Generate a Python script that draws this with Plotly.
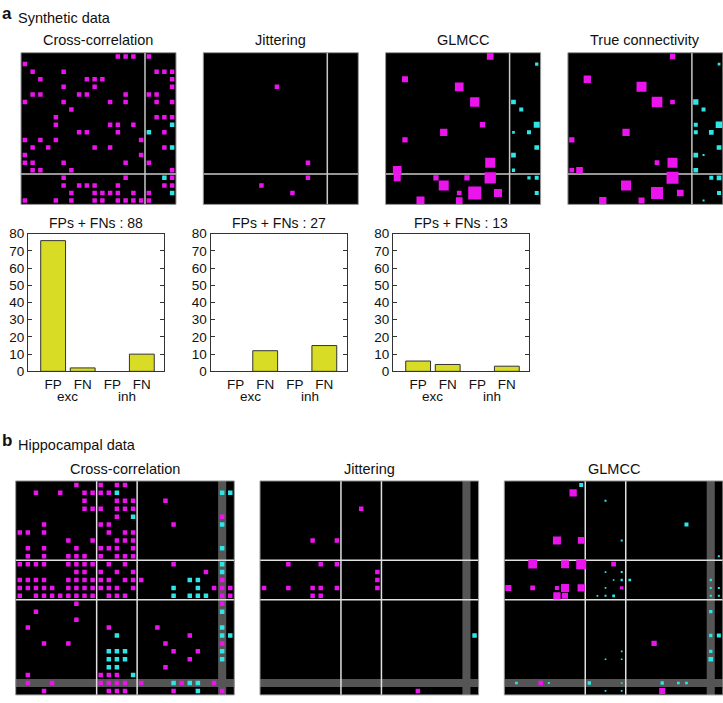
import plotly.graph_objects as go

W, H = 723, 703
FONT = "Liberation Sans, Arial, Helvetica, sans-serif"
MAG = "#ec14ec"
CYA = "#2ee6e6"
BAR = "#d8dc24"

# ---------------- DATA ----------------
# Panel a (synthetic, 20 neurons; 0-15 excitatory, 16-19 inhibitory). (row, col)
A_CC_EXC = [(0,12),(0,13),(0,14),(0,16),(1,0),(2,1),(2,5),(2,17),(2,18),(2,19),
            (3,2),(3,8),(3,9),(3,10),(3,19),(4,5),(4,9),(4,19),
            (5,1),(5,2),(5,7),(5,8),(5,13),(5,16),(5,17),
            (6,0),(6,5),(6,11),(6,13),(6,17),(6,19),(7,6),(8,4),(8,17),(8,18),(8,19),
            (9,4),(9,11),(9,12),(9,14),(10,7),(10,8),(10,12),(10,18),
            (11,0),(11,2),(11,4),(11,15),(12,1),(12,3),(12,9),(12,11),(12,18),
            (13,0),(13,15),(14,0),(14,1),(14,5),(14,13),(14,16),
            (15,1),(15,2),(15,6),(15,19),(16,5),(16,13),(16,19),
            (17,5),(17,7),(17,8),(17,9),(17,12),(17,18),(17,19),
            (18,6),(18,9),(18,10),(18,11),(18,12),(18,14),(18,16),
            (19,0),(19,4),(19,6),(19,9),(19,10),(19,12),(19,13),(19,14),(19,15),(19,16)]
A_CC_INH = [(9,19),(10,16),(12,19),(16,18),(18,19)]

A_JIT_EXC = [(4,9),(14,13),(16,13),(17,7),(18,11)]
A_JIT_INH = []

# (row, col, strength)
A_GLM_EXC = [(0,13,6.7),(3,2,6),(4,9,8.7),(6,11,9.3),(9,12,5.3),(10,7,7.3),(11,2,5.3),
             (14,13,10),(15,1,8.7),(16,1,7),(16,6,5.3),(16,10,5.3),(16,13,11.3),
             (17,7,10),(18,9,4.7),(18,11,13),(18,14,8),(19,4,8),(19,9,6.7)]
A_GLM_INH = [(1,19,3.3),(6,16,4.7),(7,17,4),(9,19,6),(10,16,2.7),(10,18,4),(12,19,4.7),
             (13,16,4.7),(15,16,3.3),(16,18,3.3),(16,19,4),(18,19,4)]

A_TRUE_EXC = [(0,13,5.3),(3,2,7.3),(4,9,10),(6,11,10.7),(6,13,4.7),(10,7,7.3),(11,0,5.3),
              (14,11,4.7),(14,13,10),(15,0,4.7),(15,1,6.7),(16,13,12),(17,7,10),
              (18,11,12),(18,14,6.7),(19,4,7.3),(19,9,6)]
A_TRUE_INH = [(1,19,2.7),(6,16,5.3),(7,17,4),(9,16,4),(9,19,6.7),(10,16,4),(10,18,4.7),
              (12,19,4.7),(13,16,4.7),(13,17,2),(15,16,4.7),(16,18,4),(16,19,4.7),
              (18,19,4),(19,17,2)]

A_TITLES = ["Cross-correlation", "Jittering", "GLMCC", "True connectivity"]

# Bar charts: FP exc, FN exc, FP inh, FN inh
BAR_CATS = ["FP", "FN", "FP", "FN"]
BAR_GROUPS = ["exc", "inh"]
CC_ERR = [76, 2, 0, 10]
JIT_ERR = [0, 12, 0, 15]
GLM_ERR = [6, 4, 0, 3]
BAR_TICKS = [0, 10, 20, 30, 40, 50, 60, 70, 80]

# Panel b (hippocampal, 27 neurons)
B_CC_EXC = [(0,7),(0,10),(0,12),(0,13),(1,2),(1,5),(1,8),(1,9),(1,10),(1,11),
            (2,8),(2,12),(2,13),(2,14),(2,18),(3,8),(3,9),(3,10),(3,12),(3,13),(3,14),
            (4,12),(4,25),(5,3),(5,10),(5,11),(5,19),(6,0),(6,1),(6,3),(6,11),(6,13),(6,14),
            (7,6),(7,9),(7,12),(7,13),(7,14),(8,1),(8,3),(8,7),(8,10),(8,11),(8,12),(8,14),
            (9,1),(9,3),(9,6),(9,7),(9,8),(9,10),(9,12),(9,13),(9,14),
            (10,0),(10,1),(10,2),(10,3),(10,6),(10,7),(10,8),(10,9),(10,11),(10,13),(10,19),
            (11,7),(11,8),(11,10),(11,12),(11,14),(11,23),
            (12,0),(12,1),(12,2),(12,3),(12,6),(12,7),(12,8),(12,9),(12,10),(12,11),(12,13),(12,14),(12,15),(12,25),
            (13,0),(13,1),(13,2),(13,3),(13,4),(13,6),(13,7),(13,8),(13,9),(13,10),(13,11),(13,12),(13,14),(13,24),(13,25),(13,26),
            (14,0),(14,2),(14,3),(14,4),(14,5),(14,6),(14,7),(14,8),(14,9),(14,11),(14,12),(14,13),(14,25),(14,26),
            (15,7),(15,25),(16,2),(17,7),(18,1),(18,11),(18,17),(19,21),(20,3),(20,6),(20,18),(20,25),
            (21,19),(21,22),(22,21),(23,18),(24,1),(24,10),(24,11),(24,12),
            (25,1),(25,4),(25,10),(25,11),(25,12),(25,13),(25,15),(25,20),(25,24),
            (26,3),(26,11),(26,12),(26,13),(26,19),(26,25)]
B_CC_INH = [(1,12),(1,25),(1,26),(4,14),(5,25),(8,25),(10,25),(11,25),(12,21),(12,22),
            (13,19),(13,22),(14,19),(14,21),(14,22),(14,23),(16,25),(18,25),
            (19,12),(19,25),(19,26),(21,11),(21,12),(21,13),(21,25),(22,11),(22,12),(22,13),(22,25),
            (23,11),(23,12),(24,14),(25,19),(25,21),(25,22),(26,22)]

B_JIT_EXC = [(3,12),(7,6),(7,9),(10,3),(10,7),(10,9),(11,14),(12,14),(13,0),(13,3),(13,6),
             (13,7),(13,9),(13,14),(14,6),(14,7),(26,19)]
B_JIT_INH = [(19,26)]

B_GLM_EXC = [(1,8,7.3),(7,6,8),(7,9,6.7),(10,3,8.7),(10,7,8),(10,9,10),(10,13,4.7),(13,0,6),
             (13,3,4.7),(13,6,4),(13,7,8),(13,9,7.3),(13,14,3.3),(14,6,7.3),(14,7,6),
             (20,18,5.3),(25,4,4.7),(26,19,6)]
B_GLM_INH = [(0,9,4),(2,12,2),(5,22,4),(7,14,2),(9,26,2),(11,12,1.7),(11,14,2),(12,13,1.7),
             (12,14,2.3),(12,15,2.7),(12,25,2.3),(13,12,1.7),(13,25,2),(13,26,2),(14,11,1.7),
             (14,12,2),(14,13,2.7),(14,25,2),(14,26,2),(16,25,3.3),(19,25,3.3),(19,26,4),
             (21,14,1.7),(21,25,3.3),(22,12,1.7),(22,14,1.7),(22,25,4.7),(25,1,2.7),(25,5,2),
             (25,10,3.3),(25,14,1.7),(25,19,3.3),(25,21,2.7),(25,22,2.7),(26,12,1.7),(26,14,1.7)]

B_TITLES = ["Cross-correlation", "Jittering", "GLMCC"]

# ---------------- FIGURE ----------------
fig = go.Figure()
layout = {}
shapes = []
annos = []
counter = [0]


def dx(x0, x1):
    return [max(0, x0 / W), min(1, x1 / W)]


def dy(y0, y1):
    return [max(0, 1 - y1 / H), min(1, 1 - y0 / H)]


def new_axes(xdom, ydom, xopt, yopt):
    counter[0] += 1
    n = counter[0]
    sfx = "" if n == 1 else str(n)
    layout["xaxis" + sfx] = dict(domain=xdom, anchor="y" + sfx, **xopt)
    layout["yaxis" + sfx] = dict(domain=ydom, anchor="x" + sfx, **yopt)
    return "x" + sfx, "y" + sfx


def text(x, y, s, size=14.5, anchor="center", bold=False):
    annos.append(dict(x=x / W, y=1 - y / H, xref="paper", yref="paper", text=("<b>%s</b>" % s) if bold else s,
                      showarrow=False, xanchor=anchor, yanchor="middle",
                      font=dict(family=FONT, size=size, color="#111")))


def matrix(left, top, size, n, exc, inh, splits, bands, base=4.5, line_col="#c8c8c8"):
    hid = dict(visible=False, showgrid=False, zeroline=False, fixedrange=True)
    xa, ya = new_axes(dx(left, left + size), dy(top, top + size),
                      dict(range=[-0.5, n - 0.5], **hid),
                      dict(range=[n - 0.5, -0.5], **hid))
    shapes.append(dict(type="rect", xref=xa + " domain", yref=ya + " domain", x0=0, x1=1, y0=0, y1=1,
                       fillcolor="black", line=dict(width=0), layer="below"))
    for b in bands:
        shapes.append(dict(type="rect", xref=xa, yref=ya + " domain", x0=b - 0.5, x1=b + 0.5, y0=0, y1=1,
                           fillcolor="#555555", line=dict(width=0), layer="below"))
        shapes.append(dict(type="rect", xref=xa + " domain", yref=ya, x0=0, x1=1, y0=b - 0.5, y1=b + 0.5,
                           fillcolor="#555555", line=dict(width=0), layer="below"))
    for s in splits:
        shapes.append(dict(type="line", xref=xa, yref=ya + " domain", x0=s, x1=s, y0=0, y1=1,
                           line=dict(color=line_col, width=1.5), layer="below"))
        shapes.append(dict(type="line", xref=xa + " domain", yref=ya, x0=0, x1=1, y0=s, y1=s,
                           line=dict(color=line_col, width=1.5), layer="below"))
    shapes.append(dict(type="rect", xref=xa + " domain", yref=ya + " domain", x0=0, x1=1, y0=0, y1=1,
                       fillcolor="rgba(0,0,0,0)", line=dict(color="#999999", width=1), layer="above"))
    for pts, col in ((exc, MAG), (inh, CYA)):
        if not pts:
            continue
        rows = [p[0] for p in pts]
        cols = [p[1] for p in pts]
        sizes = [p[2] for p in pts] if len(pts[0]) > 2 else [base] * len(pts)
        fig.add_trace(go.Scatter(x=cols, y=rows, mode="markers", xaxis=xa, yaxis=ya,
                                 marker=dict(symbol="square", size=sizes, color=col, opacity=1,
                                             line=dict(width=0)),
                                 hoverinfo="skip", showlegend=False))


def barchart(left, top, width, height, vals, title):
    xa, ya = new_axes(dx(left, left + width), dy(top, top + height),
                      dict(range=[0.15, 4.75], tickvals=[1, 2, 3, 4], ticktext=BAR_CATS,
                           showline=True, mirror=True, linecolor="#333", linewidth=1,
                           ticks="", showgrid=False, zeroline=False, fixedrange=True,
                           tickfont=dict(family=FONT, size=13.5, color="#111")),
                      dict(range=[0, 80], tickvals=BAR_TICKS, showline=True, mirror="allticks",
                           linecolor="#333", linewidth=1, ticks="inside", ticklen=4, tickcolor="#333",
                           showgrid=False, zeroline=False, fixedrange=True,
                           tickfont=dict(family=FONT, size=13.5, color="#111")))
    fig.add_trace(go.Bar(x=[1, 2, 3, 4], y=vals, width=0.84, xaxis=xa, yaxis=ya,
                         marker=dict(color=BAR,
                                     line=dict(color="#333", width=[1 if v > 0 else 0 for v in vals])),
                         hoverinfo="skip", showlegend=False))
    text(left + width / 2, top - 11.5, title, size=14)
    span = 4.6
    for i, g in enumerate(BAR_GROUPS):
        xc = left + (1.5 + 2 * i - 0.15) / span * width
        text(xc, top + height + 26, g, size=13.5)


# Panel a
text(7, 7, "a", size=17, bold=True)
text(16, 11.5, "Synthetic data", anchor="left")
A_SETS = [(A_CC_EXC, A_CC_INH), (A_JIT_EXC, A_JIT_INH), (A_GLM_EXC, A_GLM_INH), (A_TRUE_EXC, A_TRUE_INH)]
for i, ((exc, inh), t) in enumerate(zip(A_SETS, A_TITLES)):
    left = 21 + 182.3 * i
    matrix(left, 46.7, 155, 20, exc, inh, splits=[15.5], bands=[])
    text(left + 77.5, 34, t)

for i, (vals) in enumerate([CC_ERR, JIT_ERR, GLM_ERR]):
    barchart(28 + 182.5 * i, 231.7, 136, 140.6, vals, "FPs + FNs : %d" % sum(vals))

# Panel b
text(7, 443, "b", size=17, bold=True)
text(16, 448, "Hippocampal data", anchor="left")
B_SETS = [(B_CC_EXC, B_CC_INH), (B_JIT_EXC, B_JIT_INH), (B_GLM_EXC, B_GLM_INH)]
for i, ((exc, inh), t) in enumerate(zip(B_SETS, B_TITLES)):
    left = 15.7 + 244.3 * i
    matrix(left, 484.3, 218.6, 27, exc, inh, splits=[9.5, 14.5], bands=[25], line_col="#e0e0e0")
    text(left + 109.3, 472, t)

fig.update_layout(width=W, height=H, margin=dict(l=0, r=0, t=0, b=0),
                  paper_bgcolor="white", plot_bgcolor="white", hovermode=False,
                  shapes=shapes, annotations=annos, showlegend=False, **layout)
fig.write_html("out.html", config={"displayModeBar": False, "staticPlot": True},
               post_script="document.body.style.margin='0';document.body.style.padding='0';"
                           "document.body.style.overflow='hidden';")
